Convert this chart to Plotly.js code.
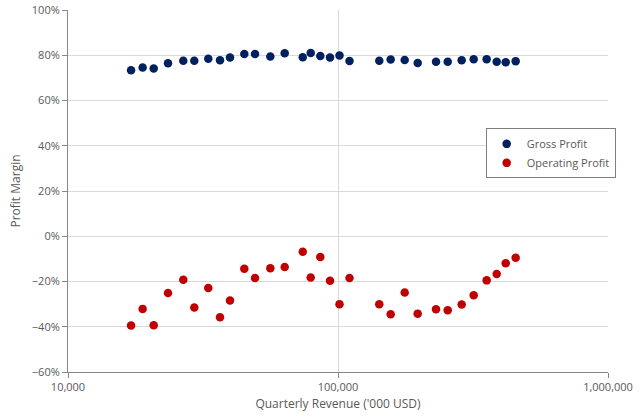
<!DOCTYPE html>
<html>
<head>
<meta charset="utf-8">
<script src="https://cdn.plot.ly/plotly-3.0.1.min.js"></script>
<style>html,body{margin:0;padding:0;background:#fff;}#chart{width:640px;height:418px;}</style>
</head>
<body>
<div id="chart"></div>
<script>
// Quarterly revenue ('000 USD)
const revenue = [17120, 18900, 20770, 23460, 26730, 29360, 33080, 36560, 39810, 44980,
  49280, 56150, 63480, 74030, 79230, 85990, 93410, 101300, 110300, 142200,
  156700, 176600, 197300, 230700, 254900, 287100, 318100, 355300, 387000, 418000, 455000];
// Gross profit margin (%)
const grossProfit = [73.4, 74.6, 74.1, 76.5, 77.6, 77.6, 78.5, 77.8, 79.0, 80.6,
  80.6, 79.4, 80.9, 79.1, 81.0, 79.7, 79.0, 79.9, 77.5, 77.6,
  78.1, 77.9, 76.6, 77.1, 77.1, 77.8, 78.2, 78.2, 77.1, 76.9, 77.4];
// Operating profit margin (%)
const operatingProfit = [-39.4, -32.1, -39.3, -25.1, -19.2, -31.5, -22.9, -35.8, -28.4, -14.4,
  -18.5, -14.1, -13.6, -6.9, -18.2, -9.2, -19.7, -30.0, -18.5, -30.1,
  -34.5, -24.9, -34.2, -32.3, -32.7, -30.2, -26.1, -19.5, -16.7, -11.9, -9.5];

const xTickVals = [10000, 100000, 1000000];
const xTickText = ['10,000', '100,000', '1,000,000'];

const textColor = '#595959';
const fontFam = 'Open Sans, sans-serif';

const traces = [
  {x: revenue, y: grossProfit, name: 'Gross Profit', type: 'scatter', mode: 'markers',
   marker: {color: '#002060', size: 8.5}},
  {x: revenue, y: operatingProfit, name: 'Operating Profit', type: 'scatter', mode: 'markers',
   marker: {color: '#C00000', size: 8.5}}
];

const layout = {
  width: 640, height: 418,
  margin: {l: 68, r: 32, t: 10, b: 46},
  paper_bgcolor: '#fff', plot_bgcolor: '#fff',
  font: {family: fontFam, color: textColor, size: 11},
  showlegend: true,
  legend: {x: 0.7735, y: 0.673, xanchor: 'left', yanchor: 'top',
    bordercolor: '#7f7f7f', borderwidth: 1, bgcolor: '#fff',
    font: {size: 11, color: textColor}, itemwidth: 30},
  xaxis: {
    type: 'log', range: [4, 6],
    tickvals: xTickVals, ticktext: xTickText,
    showgrid: true, gridcolor: '#d9d9d9', gridwidth: 1,
    showline: true, linecolor: '#868686', linewidth: 1,
    ticks: 'outside', ticklen: 5, tickcolor: '#868686',
    zeroline: false,
    title: {text: "Quarterly Revenue ('000 USD)", font: {size: 12, color: textColor}, standoff: 6}
  },
  yaxis: {
    range: [-60, 100], dtick: 20, tick0: 0, ticksuffix: '%',
    showgrid: true, gridcolor: '#d9d9d9', gridwidth: 1,
    showline: true, linecolor: '#868686', linewidth: 1,
    ticks: 'outside', ticklen: 5, tickcolor: '#868686',
    zeroline: false,
    title: {text: 'Profit Margin', font: {size: 12, color: textColor}, standoff: 8}
  }
};

Plotly.newPlot('chart', traces, layout, {displayModeBar: false, staticPlot: true});
</script>
</body>
</html>
